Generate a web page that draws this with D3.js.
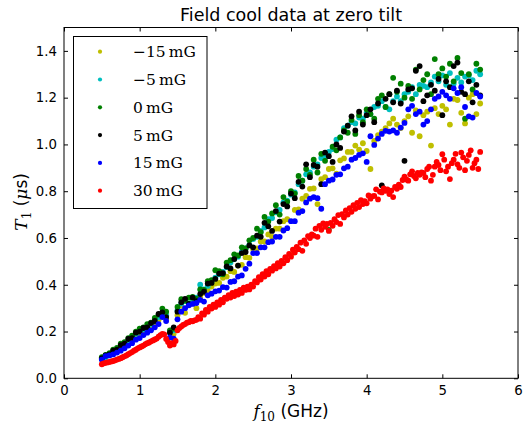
<!DOCTYPE html>
<html>
<head>
<meta charset="utf-8">
<script src="https://cdn.jsdelivr.net/npm/d3@7"></script>
<style>
  body { margin: 0; background: #fff; }
  svg { display: block; }
  .axis text { font-family: "DejaVu Sans", sans-serif; font-size: 13.3px; fill: #000; }
  .axis line { stroke: #000; }
</style>
</head>
<body>
<div id="chart"></div>
<script>
// frequency grids (GHz): most fields were swept every 0.05 GHz, 30 mG every 0.025 GHz
const freq = d3.range(101).map(i => +(0.5 + i * 0.05).toFixed(3));
const freqFine = d3.range(201).map(i => +(0.5 + i * 0.025).toFixed(3));

const fieldLabels = ["\u221215", "\u22125", "0", "5", "15", "30"];
const fieldColors = ["#bfbf00", "#00bfbf", "#008000", "#000000", "#0000ff", "#ff0000"];

// T1 (us)
const t1Minus15 = [
  0.085,0.092,0.100,0.112,0.120,0.132,0.145,0.155,0.170,0.182,
  0.192,0.200,0.212,0.225,0.240,0.250,0.272,0.255,0.200,0.190,
  0.270,0.310,0.280,0.315,0.330,0.300,0.345,0.365,0.375,0.392,
  0.405,0.408,0.430,0.435,0.458,0.455,0.482,0.485,0.518,0.515,
  0.552,0.555,0.585,0.585,0.615,0.605,0.640,0.640,0.672,0.680,
  0.528,0.720,0.722,0.768,0.780,0.810,0.812,0.745,0.852,0.860,
  0.895,0.898,0.875,0.932,0.940,0.968,0.968,0.995,0.978,1.005,
  0.972,0.895,1.015,1.040,1.055,1.070,1.090,1.110,1.085,1.070,
  1.100,1.120,1.050,1.145,1.035,1.125,1.140,0.995,1.155,1.130,
  1.165,1.150,1.085,1.195,1.190,1.135,1.090,1.200,1.215,1.130,1.175
];
const t1Minus5 = [
  0.082,0.090,0.102,0.112,0.125,0.135,0.150,0.162,0.178,0.190,
  0.200,0.210,0.220,0.232,0.245,0.262,0.280,0.270,0.200,0.205,
  0.290,0.320,0.330,0.320,0.340,0.345,0.400,0.380,0.395,0.412,
  0.430,0.445,0.455,0.475,0.495,0.510,0.520,0.540,0.555,0.570,
  0.595,0.605,0.630,0.645,0.680,0.685,0.710,0.720,0.752,0.760,
  0.785,0.795,0.830,0.845,0.872,0.880,0.905,0.915,0.942,0.945,
  0.968,0.980,1.020,1.030,1.070,1.080,1.095,1.090,1.115,1.110,
  1.135,1.130,1.160,1.165,1.185,1.160,1.150,1.185,1.205,1.185,
  1.215,1.225,1.245,1.215,1.255,1.250,1.245,1.265,1.290,1.270,
  1.295,1.255,1.305,1.260,1.285,1.265,1.290,1.295,1.275,1.315,1.300
];
const t1Zero = [
  0.090,0.100,0.108,0.122,0.130,0.148,0.155,0.172,0.182,0.200,
  0.212,0.218,0.232,0.238,0.258,0.272,0.298,0.285,0.205,0.212,
  0.305,0.338,0.332,0.345,0.348,0.340,0.380,0.378,0.415,0.420,
  0.462,0.458,0.445,0.495,0.505,0.530,0.525,0.560,0.555,0.590,
  0.600,0.640,0.625,0.690,0.670,0.705,0.740,0.700,0.775,0.755,
  0.800,0.790,0.865,0.845,0.895,0.870,0.935,0.880,0.960,0.930,
  0.635,0.990,0.975,1.030,1.060,1.050,1.105,1.045,1.125,1.095,
  1.150,1.130,1.110,1.195,1.210,1.160,1.215,1.285,1.225,1.260,
  1.200,1.250,1.195,1.320,1.235,1.275,1.300,1.215,1.365,1.300,
  1.325,1.290,1.345,1.270,1.370,1.305,1.110,1.300,1.235,1.345,1.320
];
const t1Plus5 = [
  0.085,0.098,0.102,0.118,0.122,0.142,0.148,0.168,0.172,0.195,
  0.200,0.215,0.218,0.236,0.245,0.275,0.282,0.262,0.195,0.218,
  0.285,0.325,0.340,0.318,0.345,0.330,0.360,0.370,0.405,0.408,
  0.425,0.448,0.450,0.478,0.470,0.510,0.482,0.535,0.540,0.568,
  0.560,0.610,0.605,0.665,0.650,0.630,0.715,0.670,0.745,0.735,
  0.790,0.770,0.840,0.820,0.915,0.860,0.912,0.905,0.830,0.965,
  0.950,0.925,1.000,0.985,1.055,1.080,1.120,1.060,1.140,1.085,
  1.125,1.150,1.095,1.175,0.825,1.195,1.215,1.180,1.230,1.175,
  0.930,1.235,1.240,1.315,1.335,1.185,1.210,1.255,1.230,1.280,
  1.125,1.270,1.245,1.335,1.350,1.225,1.215,1.270,1.180,1.255,1.210
];
const t1Plus15 = [
  0.080,0.095,0.098,0.102,0.110,0.118,0.128,0.140,0.150,0.165,
  0.172,0.185,0.195,0.205,0.218,0.232,0.262,0.245,0.175,0.170,
  0.252,0.285,0.300,0.312,0.318,0.322,0.335,0.328,0.355,0.362,
  0.372,0.375,0.390,0.388,0.412,0.415,0.435,0.440,0.468,0.490,
  0.535,0.535,0.560,0.560,0.582,0.585,0.605,0.605,0.632,0.642,
  0.672,0.672,0.708,0.715,0.752,0.768,0.775,0.770,0.725,0.830,
  0.845,0.850,0.870,0.872,0.898,0.905,0.935,0.942,0.955,0.962,
  0.925,1.035,0.998,1.025,1.045,1.058,1.055,1.060,1.050,1.072,
  1.092,1.150,1.165,1.130,1.140,1.085,1.100,1.150,1.195,1.205,
  1.225,1.210,1.195,1.240,1.220,1.245,1.160,1.120,1.115,1.220,1.205
];
const t1Plus30 = [
  0.060,0.064,0.066,0.068,0.070,0.072,0.074,0.077,0.080,0.083,
  0.086,0.090,0.094,0.098,0.103,0.108,0.112,0.118,0.122,0.128,
  0.132,0.136,0.140,0.146,0.150,0.153,0.158,0.162,0.166,0.170,
  0.178,0.184,0.190,0.188,0.168,0.155,0.140,0.150,0.145,0.160,
  0.205,0.215,0.222,0.228,0.232,0.238,0.240,0.245,0.244,0.248,
  0.250,0.262,0.255,0.278,0.272,0.292,0.285,0.305,0.298,0.315,
  0.305,0.325,0.315,0.335,0.325,0.345,0.340,0.356,0.345,0.365,
  0.352,0.370,0.358,0.378,0.365,0.388,0.378,0.392,0.380,0.400,
  0.392,0.415,0.410,0.432,0.422,0.445,0.435,0.458,0.445,0.468,
  0.460,0.480,0.470,0.492,0.478,0.502,0.492,0.518,0.505,0.532,
  0.520,0.550,0.538,0.562,0.552,0.580,0.545,0.590,0.575,0.608,
  0.600,0.615,0.610,0.640,0.605,0.652,0.635,0.662,0.648,0.660,
  0.630,0.665,0.652,0.680,0.668,0.698,0.660,0.702,0.688,0.718,
  0.700,0.728,0.712,0.740,0.725,0.750,0.732,0.762,0.745,0.758,
  0.748,0.782,0.768,0.778,0.780,0.808,0.765,0.798,0.795,0.812,
  0.802,0.808,0.788,0.802,0.775,0.818,0.810,0.828,0.818,0.848,
  0.862,0.850,0.845,0.872,0.885,0.865,0.855,0.878,0.870,0.880,
  0.878,0.860,0.895,0.905,0.845,0.870,0.905,0.925,0.912,0.890,
  0.958,0.935,0.885,0.905,0.852,0.920,0.935,0.960,0.915,0.900,
  0.965,0.945,0.890,0.930,0.955,0.975,0.900,0.920,0.935,0.895,
  0.968
];

const seriesValues = [t1Minus15, t1Minus5, t1Zero, t1Plus5, t1Plus15, t1Plus30];
const seriesFreq = [freq, freq, freq, freq, freq, freqFine];
const xTicks = [0, 1, 2, 3, 4, 5, 6];
const yTicks = [0, 0.2, 0.4, 0.6, 0.8, 1.0, 1.2, 1.4];

const W = 526, H = 424;
const margin = { top: 27.5, right: 8, bottom: 45.7, left: 64 };
const width = W - margin.left - margin.right;
const height = H - margin.top - margin.bottom;

const svg = d3.select("#chart").append("svg")
  .attr("width", W).attr("height", H);

const g = svg.append("g")
  .attr("transform", `translate(${margin.left},${margin.top})`);

const x = d3.scaleLinear().domain([0, 6]).range([0, width]);
const y = d3.scaleLinear().domain([0, 1.5]).range([height, 0]);

// points, in legend order so red ends on top
seriesValues.forEach((vals, k) => {
  g.append("g")
    .selectAll("circle")
    .data(vals.map((v, i) => [seriesFreq[k][i], v]))
    .enter()
    .append("circle")
    .attr("cx", d => x(d[0]))
    .attr("cy", d => y(d[1]))
    .attr("r", 2.9)
    .attr("fill", fieldColors[k]);
});

// axes with inward ticks on all four sides
g.append("g").attr("class", "axis")
  .attr("transform", `translate(0,${height})`)
  .call(d3.axisBottom(x).tickValues(xTicks).tickSize(-4).tickPadding(7).tickFormat(d3.format("d")));
g.append("g").attr("class", "axis")
  .call(d3.axisLeft(y).tickValues(yTicks).tickSize(-4).tickPadding(7).tickFormat(d3.format(".1f")));
g.append("g").attr("class", "axis")
  .call(d3.axisTop(x).tickValues(xTicks).tickSize(-4).tickFormat(""));
g.append("g").attr("class", "axis")
  .attr("transform", `translate(${width},0)`)
  .call(d3.axisRight(y).tickValues(yTicks).tickSize(-4).tickFormat(""));
g.selectAll(".axis .domain").remove();

g.append("rect")
  .attr("width", width).attr("height", height)
  .attr("fill", "none").attr("stroke", "#000").attr("stroke-width", 1);

// title
svg.append("text")
  .attr("x", margin.left + width / 2).attr("y", 21)
  .attr("text-anchor", "middle")
  .style("font-family", "DejaVu Sans, sans-serif")
  .style("font-size", "17.5px")
  .text("Field cool data at zero tilt");

// x label: f_10 (GHz)
const xl = svg.append("text")
  .attr("x", margin.left + width / 2).attr("y", 417)
  .attr("text-anchor", "middle")
  .style("font-size", "17px");
xl.append("tspan").style("font-family", "DejaVu Serif, serif").style("font-style", "italic").text("f");
xl.append("tspan").style("font-family", "DejaVu Serif, serif").style("font-size", "12px").attr("dy", 3.5).text("10");
xl.append("tspan").style("font-family", "DejaVu Sans, sans-serif").attr("dy", -3.5).text(" (GHz)");

// y label: T_1 (us)
const ylab = svg.append("text")
  .attr("transform", `translate(27,${margin.top + height / 2 - 1}) rotate(-90)`)
  .attr("text-anchor", "middle")
  .style("font-size", "17px");
ylab.append("tspan").style("font-family", "DejaVu Serif, serif").style("font-style", "italic").text("T");
ylab.append("tspan").style("font-family", "DejaVu Serif, serif").style("font-size", "12px").attr("dy", 3.5).text("1");
ylab.append("tspan").style("font-family", "DejaVu Sans, sans-serif").attr("dy", -3.5).text(" (");
ylab.append("tspan").style("font-family", "DejaVu Serif, serif").style("font-style", "italic").text("\u03bc");
ylab.append("tspan").style("font-family", "DejaVu Sans, sans-serif").text("s)");

// legend
const leg = svg.append("g");
leg.append("rect")
  .attr("x", 73.5).attr("y", 36.5).attr("width", 133.5).attr("height", 172)
  .attr("fill", "#fff").attr("stroke", "#000").attr("stroke-width", 1);
fieldLabels.forEach((lab, k) => {
  const yy = 51.7 + k * 27.8;
  leg.append("circle").attr("cx", 100).attr("cy", yy).attr("r", 2.1).attr("fill", fieldColors[k]);
  leg.append("text")
    .attr("x", 133).attr("y", yy + 5.5)
    .style("font-family", "DejaVu Serif, serif")
    .style("font-size", "15.5px")
    .text(lab + "\u2009mG");
});
</script>
</body>
</html>
